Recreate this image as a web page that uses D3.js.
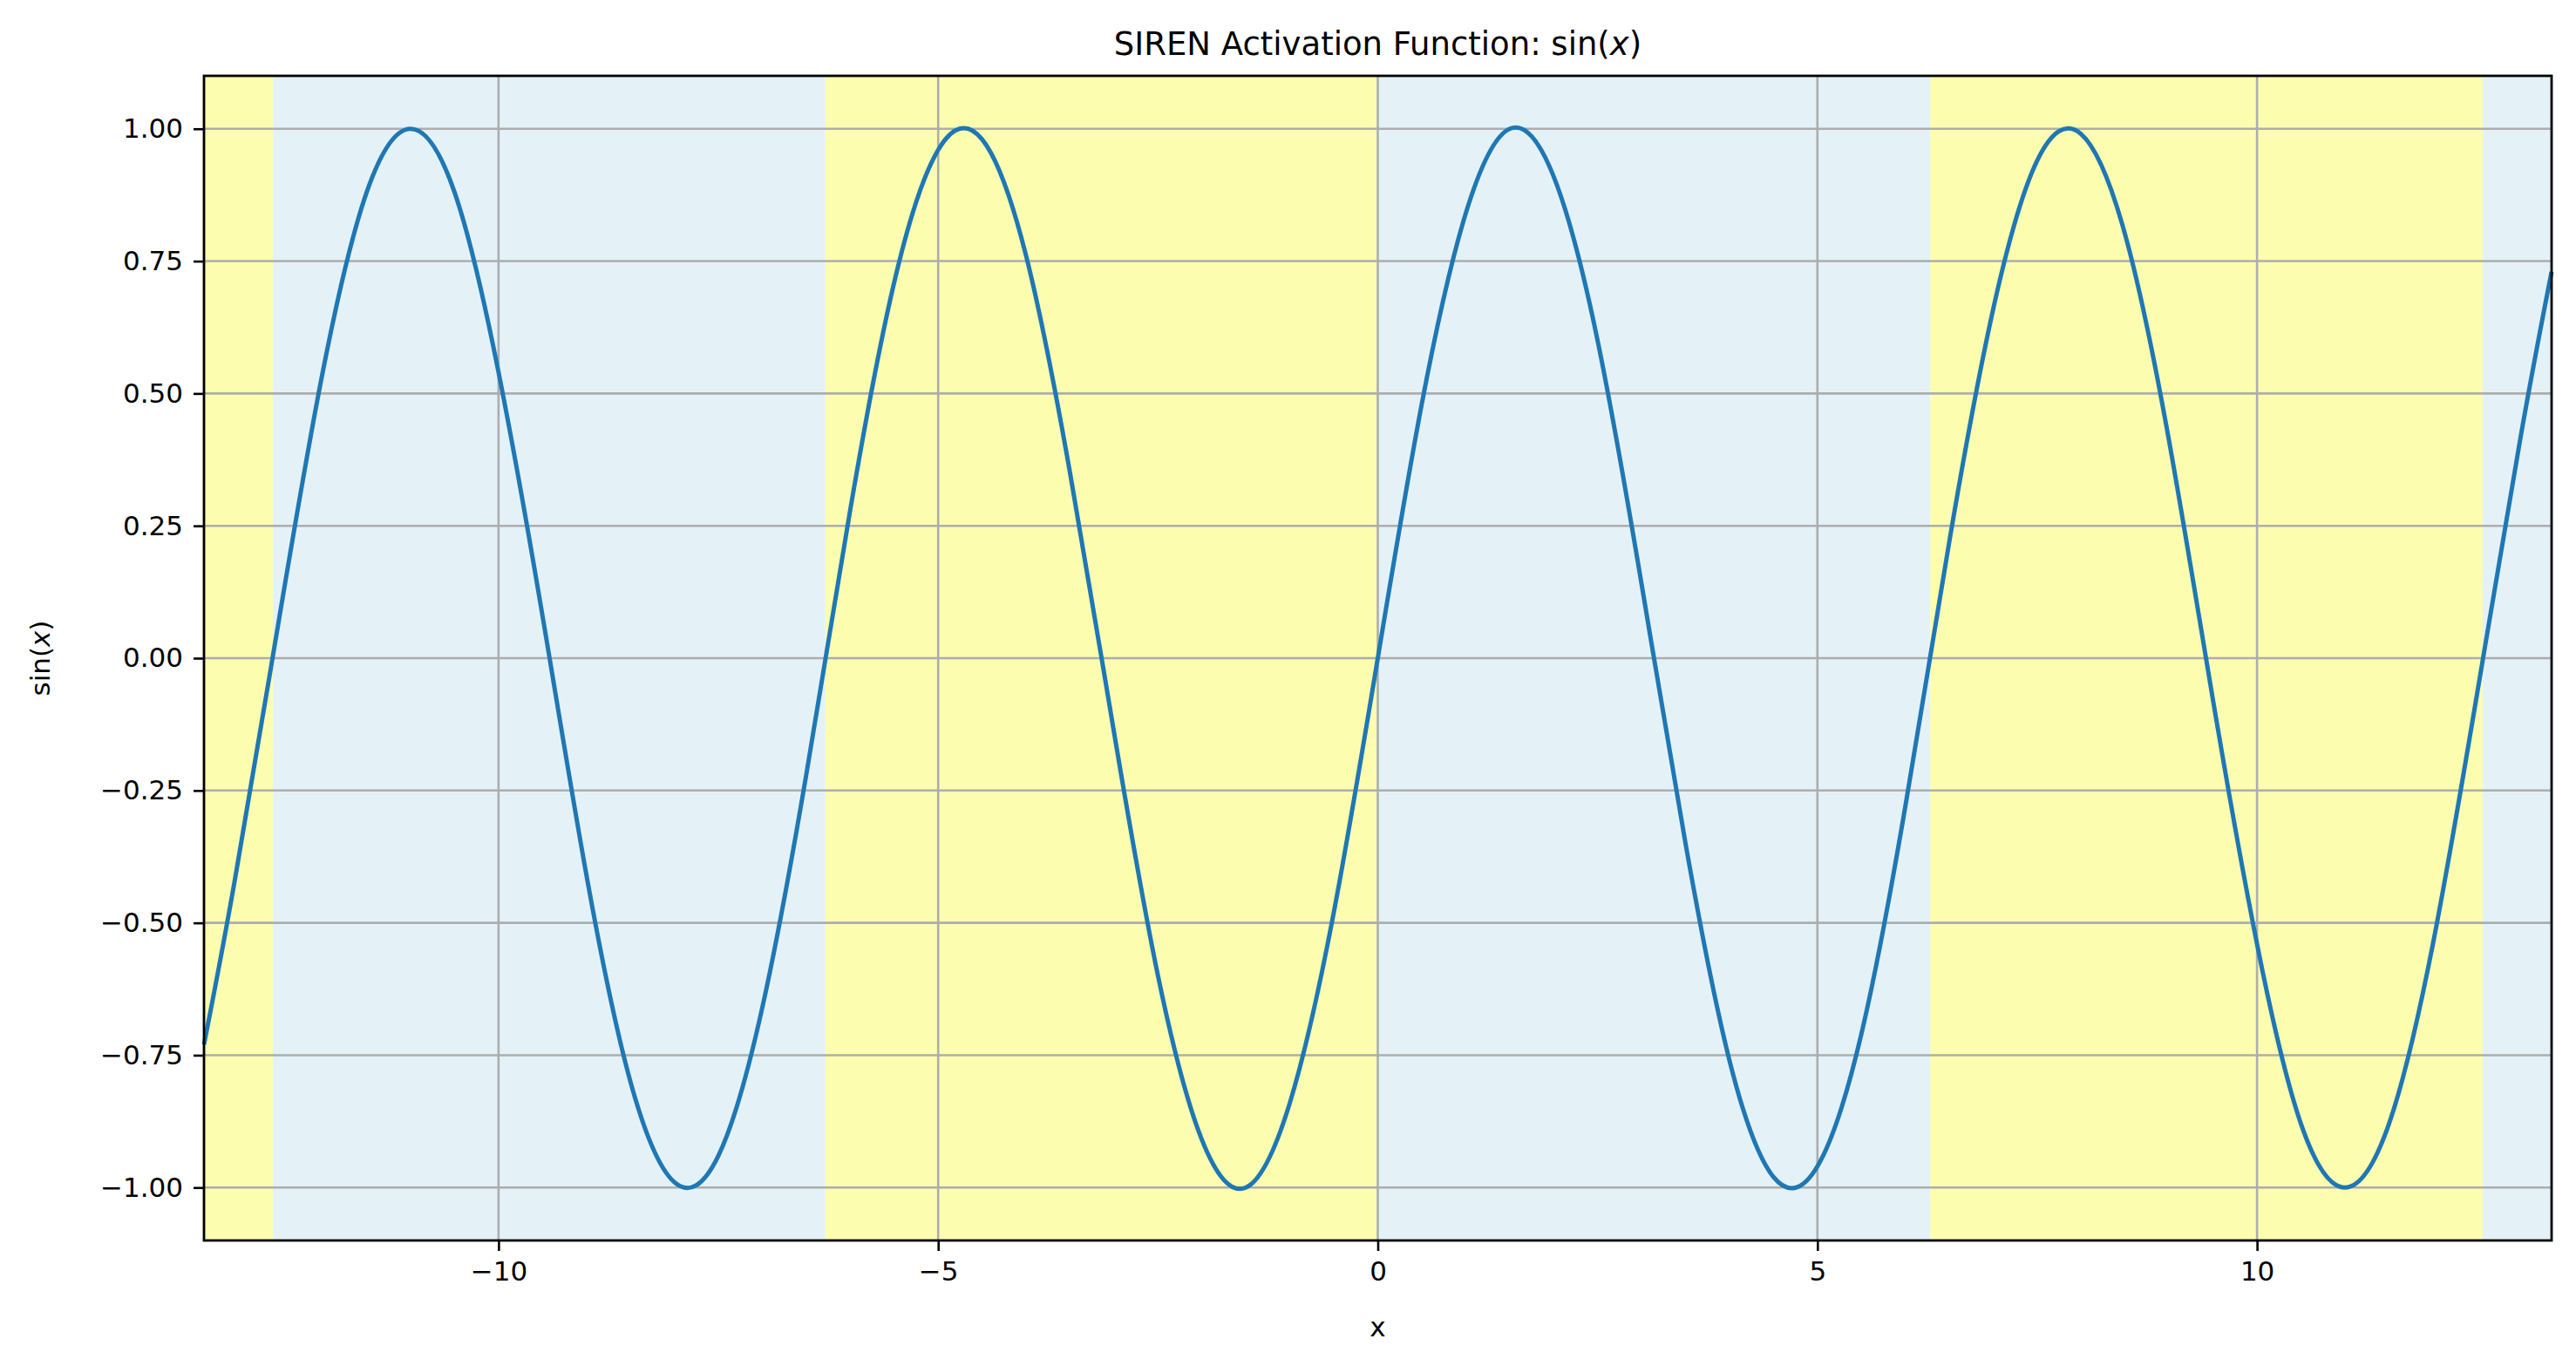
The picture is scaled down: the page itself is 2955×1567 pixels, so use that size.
<!DOCTYPE html>
<html>
<head>
<meta charset="utf-8">
<script src="https://cdn.jsdelivr.net/npm/d3@7"></script>
<style>
  body { margin: 0; background: #fff; }
  text { font-family: "DejaVu Sans", sans-serif; }
</style>
</head>
<body>
<svg id="chart" width="2955" height="1567"></svg>
<script>
// values
const xs = [-13.35, -13, -12.5, -12, -11.5, -11, -10.5, -10, -9.5, -9, -8.5, -8, -7.5, -7, -6.5, -6, -5.5, -5, -4.5, -4, -3.5, -3, -2.5, -2, -1.5, -1, -0.5,
  0, 0.5, 1, 1.5, 2, 2.5, 3, 3.5, 4, 4.5, 5, 5.5, 6, 6.5, 7, 7.5, 8, 8.5, 9, 9.5, 10, 10.5, 11, 11.5, 12, 12.5, 13, 13.35];
const ys = [-0.73, -0.42, 0.07, 0.54, 0.88, 1.00, 0.88, 0.54, 0.08, -0.41, -0.80, -0.99, -0.94, -0.66, -0.22, 0.28, 0.71, 0.96, 0.98, 0.76, 0.35, -0.14, -0.60, -0.91, -1.00, -0.84, -0.48,
  0, 0.48, 0.84, 1.00, 0.91, 0.60, 0.14, -0.35, -0.76, -0.98, -0.96, -0.71, -0.28, 0.22, 0.66, 0.94, 0.99, 0.80, 0.41, -0.08, -0.54, -0.88, -1.00, -0.88, -0.54, -0.07, 0.42, 0.73];
const bandEdges = [-13.35, -12.566, -6.283, 0, 6.283, 12.566, 13.35];
const bandColors = ["#fdfdb0", "#e4f2f7", "#fdfdb0", "#e4f2f7", "#fdfdb0", "#e4f2f7"];
const xTicks = [-10, -5, 0, 5, 10];
const yTicks = [-1, -0.75, -0.5, -0.25, 0, 0.25, 0.5, 0.75, 1];

const L = 234, R = 2927, T = 87, B = 1423;
const svg = d3.select("#chart");
const x = d3.scaleLinear().domain([-13.35, 13.35]).range([L, R]);
const y = d3.scaleLinear().domain([-1.1, 1.1]).range([B, T]);

// background bands
svg.selectAll("rect.band").data(bandColors).join("rect")
  .attr("x", (d, i) => x(bandEdges[i]))
  .attr("width", (d, i) => x(bandEdges[i + 1]) - x(bandEdges[i]))
  .attr("y", T).attr("height", B - T)
  .attr("fill", d => d);

// grid
svg.append("g").selectAll("line").data(xTicks).join("line")
  .attr("x1", d => x(d)).attr("x2", d => x(d)).attr("y1", T).attr("y2", B)
  .attr("stroke", "#adadad").attr("stroke-width", 2.6);
svg.append("g").selectAll("line").data(yTicks).join("line")
  .attr("y1", d => y(d)).attr("y2", d => y(d)).attr("x1", L).attr("x2", R)
  .attr("stroke", "#adadad").attr("stroke-width", 2.6);

// curve
const pts = xs.map((v, i) => [v, ys[i]]);
svg.append("path").datum(pts)
  .attr("d", d3.line().x(d => x(d[0])).y(d => y(d[1])).curve(d3.curveNatural))
  .attr("fill", "none").attr("stroke", "#1f77b4").attr("stroke-width", 5);

// frame
svg.append("rect").attr("x", L).attr("y", T).attr("width", R - L).attr("height", B - T)
  .attr("fill", "none").attr("stroke", "#000").attr("stroke-width", 2.8);

const minus = s => s.replace("-", "\u2212");
const xAxis = svg.append("g").attr("transform", `translate(0,${B})`)
  .call(d3.axisBottom(x).tickValues(xTicks).tickSize(12).tickPadding(12).tickFormat(d => minus(String(d))));
const yAxis = svg.append("g").attr("transform", `translate(${L},0)`)
  .call(d3.axisLeft(y).tickValues(yTicks).tickSize(12).tickPadding(12).tickFormat(d => minus(d3.format(".2f")(d))));
[xAxis, yAxis].forEach(a => {
  a.select(".domain").remove();
  a.selectAll(".tick line").attr("stroke", "#000").attr("stroke-width", 2.6);
  a.selectAll(".tick text").attr("font-size", 31).attr("fill", "#000").style("font-family", "DejaVu Sans");
});

// title and labels
const title = svg.append("text").attr("x", (L + R) / 2).attr("y", 63).attr("text-anchor", "middle")
  .attr("font-size", 37);
title.append("tspan").text("SIREN Activation Function: sin(");
title.append("tspan").attr("font-style", "italic").text("x");
title.append("tspan").text(")");

svg.append("text").attr("x", (L + R) / 2).attr("y", 1533).attr("text-anchor", "middle")
  .attr("font-size", 31).text("x");

const yl = svg.append("text").attr("transform", `translate(57,${(T + B) / 2}) rotate(-90)`)
  .attr("text-anchor", "middle").attr("font-size", 31);
yl.append("tspan").text("sin(");
yl.append("tspan").attr("font-style", "italic").text("x");
yl.append("tspan").text(")");
</script>
</body>
</html>
